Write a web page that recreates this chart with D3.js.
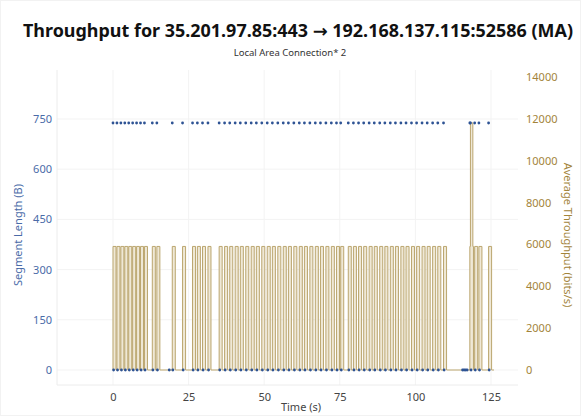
<!DOCTYPE html>
<html><head><meta charset="utf-8">
<script src="https://cdn.jsdelivr.net/npm/d3@7"></script>
<style>
html,body{margin:0;padding:0;background:#fff;}
svg{display:block;}
</style></head>
<body><svg id="chart" width="581" height="416"></svg>
<script>
// ---------- data ----------
const titleText = "Throughput for 35.201.97.85:443 \u2192 192.168.137.115:52586 (MA)";
const subtitleText = "Local Area Connection* 2";
const xTicks = [0, 25, 50, 75, 100, 125];
const leftTicks = [0, 150, 300, 450, 600, 750];
const rightTicks = [0, 2000, 4000, 6000, 8000, 10000, 12000, 14000];

// data segments (738 B) arrival times (s)
const dataTimes = [0, 1.3, 2.6, 3.9, 5.2, 6.5, 7.8, 9.1, 10.4, 13.0, 14.5,
  19.6, 23.0, 26.3, 27.9, 29.6, 31.4,
  35.1, 36.9, 38.6, 40.4, 42.1, 43.9, 45.7, 47.4, 49.2, 51.0, 52.7, 54.5, 56.3, 58.0,
  59.8, 61.6, 63.3, 65.1, 66.9, 68.6, 70.4, 72.2, 73.9, 75.3,
  77.8, 79.5, 81.2, 82.9, 84.7, 86.4, 88.2, 89.9, 91.7, 93.4, 95.2, 96.9, 98.7,
  100.4, 102.2, 103.9, 105.7, 107.4, 109.3,
  118.0, 118.2, 119.6, 121.0, 124.2];
const dataLen = 738;
// zero-length segments (ACKs) times (s)
const ackTimes = [0.2, 1.5, 2.8, 4.1, 5.4, 6.7, 8.0, 9.3, 10.6, 13.2, 14.7,
  18.6, 19.8, 23.2, 26.5, 28.1, 29.8, 31.6,
  35.3, 37.1, 38.8, 40.6, 42.3, 44.1, 45.9, 47.6, 49.4, 51.2, 52.9, 54.7, 56.5, 58.2,
  60.0, 61.8, 63.5, 65.3, 67.1, 68.8, 70.6, 72.4, 74.1, 75.5,
  78.0, 79.7, 81.4, 83.1, 84.9, 86.6, 88.4, 90.1, 91.9, 93.6, 95.4, 97.1, 98.9,
  100.6, 102.4, 104.1, 105.9, 107.6, 109.5,
  115.6, 116.1, 116.6, 117.1, 118.4, 119.8, 121.2, 124.4];

// moving-average throughput: start/end of each window (s) and level (bits/s)
const tpStart = dataTimes;
const tpEnd = [1.0, 2.3, 3.6, 4.9, 6.2, 7.5, 8.8, 10.1, 11.4, 14.0, 15.5,
  20.6, 24.0, 27.3, 28.9, 30.6, 32.4,
  36.1, 37.9, 39.6, 41.4, 43.1, 44.9, 46.7, 48.4, 50.2, 52.0, 53.7, 55.5, 57.3, 59.0,
  60.8, 62.6, 64.3, 66.1, 67.9, 69.6, 71.4, 73.2, 74.9, 76.3,
  78.8, 80.5, 82.2, 83.9, 85.7, 87.4, 89.2, 90.9, 92.7, 94.4, 96.2, 97.9, 99.7,
  101.4, 103.2, 104.9, 106.7, 108.4, 110.3,
  119.0, 119.2, 120.6, 122.0, 125.2];
const tpLevel = 5904;
const tpEndTime = 126;

// ---------- layout ----------
const svg = d3.select("#chart");
const W = 581, H = 416;
const plot = {left: 57, right: 518, top: 70, bottom: 385};
const font = "'Noto Sans', 'DejaVu Sans', sans-serif";
const blue = "#4a6ba8", gold = "#a3843a", dotColor = "#2e5394", lineColor = "#bba66f";

const x = d3.scaleLinear().domain([0, 125]).range([113, 491]);
const yL = d3.scaleLinear().domain([0, 750]).range([370, 119]);
const yR = d3.scaleLinear().domain([0, 14000]).range([370, 77]);

// frame
svg.append("rect").attr("x", 0.5).attr("y", 0.5).attr("width", W - 1).attr("height", H - 1)
  .attr("fill", "#fff").attr("stroke", "#f2f2f2");

// grid
const g = svg.append("g");
g.selectAll("line.gx").data(xTicks).join("line")
  .attr("x1", d => x(d)).attr("x2", d => x(d)).attr("y1", plot.top).attr("y2", plot.bottom)
  .attr("stroke", "#f3f3f3");
g.selectAll("line.gy").data(leftTicks).join("line")
  .attr("x1", plot.left).attr("x2", plot.right).attr("y1", d => yL(d)).attr("y2", d => yL(d))
  .attr("stroke", "#f3f3f3");
g.append("line").attr("x1", plot.left).attr("x2", plot.left).attr("y1", plot.top).attr("y2", plot.bottom).attr("stroke", "#ececec");
g.append("line").attr("x1", plot.left).attr("x2", plot.right).attr("y1", plot.bottom).attr("y2", plot.bottom).attr("stroke", "#ececec");

// throughput step line built from window events
const events = [];
tpStart.forEach((s, i) => { events.push([s, tpLevel]); events.push([tpEnd[i], -tpLevel]); });
events.sort((a, b) => a[0] - b[0]);
let level = 0;
const steps = [[0, 0]];
events.forEach(e => { level += e[1]; steps.push([e[0], Math.max(0, level)]); });
steps.push([tpEndTime, 0]);
const area = d3.area().x(d => x(d[0])).y0(yR(0)).y1(d => yR(d[1])).curve(d3.curveStepAfter);
svg.append("path").datum(steps).attr("d", area)
  .attr("fill", "#efe8d6").attr("stroke", "none");
const line = d3.line().x(d => x(d[0])).y(d => yR(d[1])).curve(d3.curveStepAfter);
svg.append("path").datum(steps).attr("d", line)
  .attr("fill", "none").attr("stroke", lineColor).attr("stroke-width", 1);

// dots
svg.append("g").selectAll("circle").data(dataTimes).join("circle")
  .attr("cx", d => x(d)).attr("cy", yL(dataLen)).attr("r", 1.4).attr("fill", dotColor);
svg.append("g").selectAll("circle").data(ackTimes).join("circle")
  .attr("cx", d => x(d)).attr("cy", yL(0)).attr("r", 1.4).attr("fill", dotColor);

// axes
const axX = svg.append("g").attr("transform", `translate(0,${plot.bottom})`)
  .call(d3.axisBottom(x).tickValues(xTicks).tickSize(0).tickPadding(8));
const axL = svg.append("g").attr("transform", `translate(${plot.left},0)`)
  .call(d3.axisLeft(yL).tickValues(leftTicks).tickSize(0).tickPadding(5));
const axR = svg.append("g").attr("transform", `translate(${plot.right + 8},0)`)
  .call(d3.axisRight(yR).tickValues(rightTicks).tickFormat(d3.format("d")).tickSize(0).tickPadding(0));
[axX, axL, axR].forEach(a => a.select(".domain").remove());
axX.selectAll("text").attr("font-family", font).attr("font-size", 11).attr("fill", "#444");
axL.selectAll("text").attr("font-family", font).attr("font-size", 11).attr("fill", blue);
axR.selectAll("text").attr("font-family", font).attr("font-size", 11).attr("fill", gold);

// titles
svg.append("text").attr("x", 298).attr("y", 37).attr("text-anchor", "middle")
  .attr("font-family", font).attr("font-weight", "bold").attr("font-size", 17.5).attr("fill", "#111")
  .attr("textLength", 550).attr("lengthAdjust", "spacingAndGlyphs")
  .text(titleText);
svg.append("text").attr("x", 290).attr("y", 56).attr("text-anchor", "middle")
  .attr("font-family", font).attr("font-size", 9.5).attr("fill", "#333").text(subtitleText);
svg.append("text").attr("x", 301).attr("y", 411).attr("text-anchor", "middle")
  .attr("font-family", font).attr("font-size", 11).attr("fill", "#444").text("Time (s)");
svg.append("text").attr("transform", "translate(22,235) rotate(-90)").attr("text-anchor", "middle")
  .attr("font-family", font).attr("font-size", 11).attr("fill", blue).text("Segment Length (B)");
svg.append("text").attr("transform", "translate(564,235) rotate(90)").attr("text-anchor", "middle")
  .attr("font-family", font).attr("font-size", 11).attr("fill", gold).text("Average Throughput (bits/s)");
</script></body></html>
